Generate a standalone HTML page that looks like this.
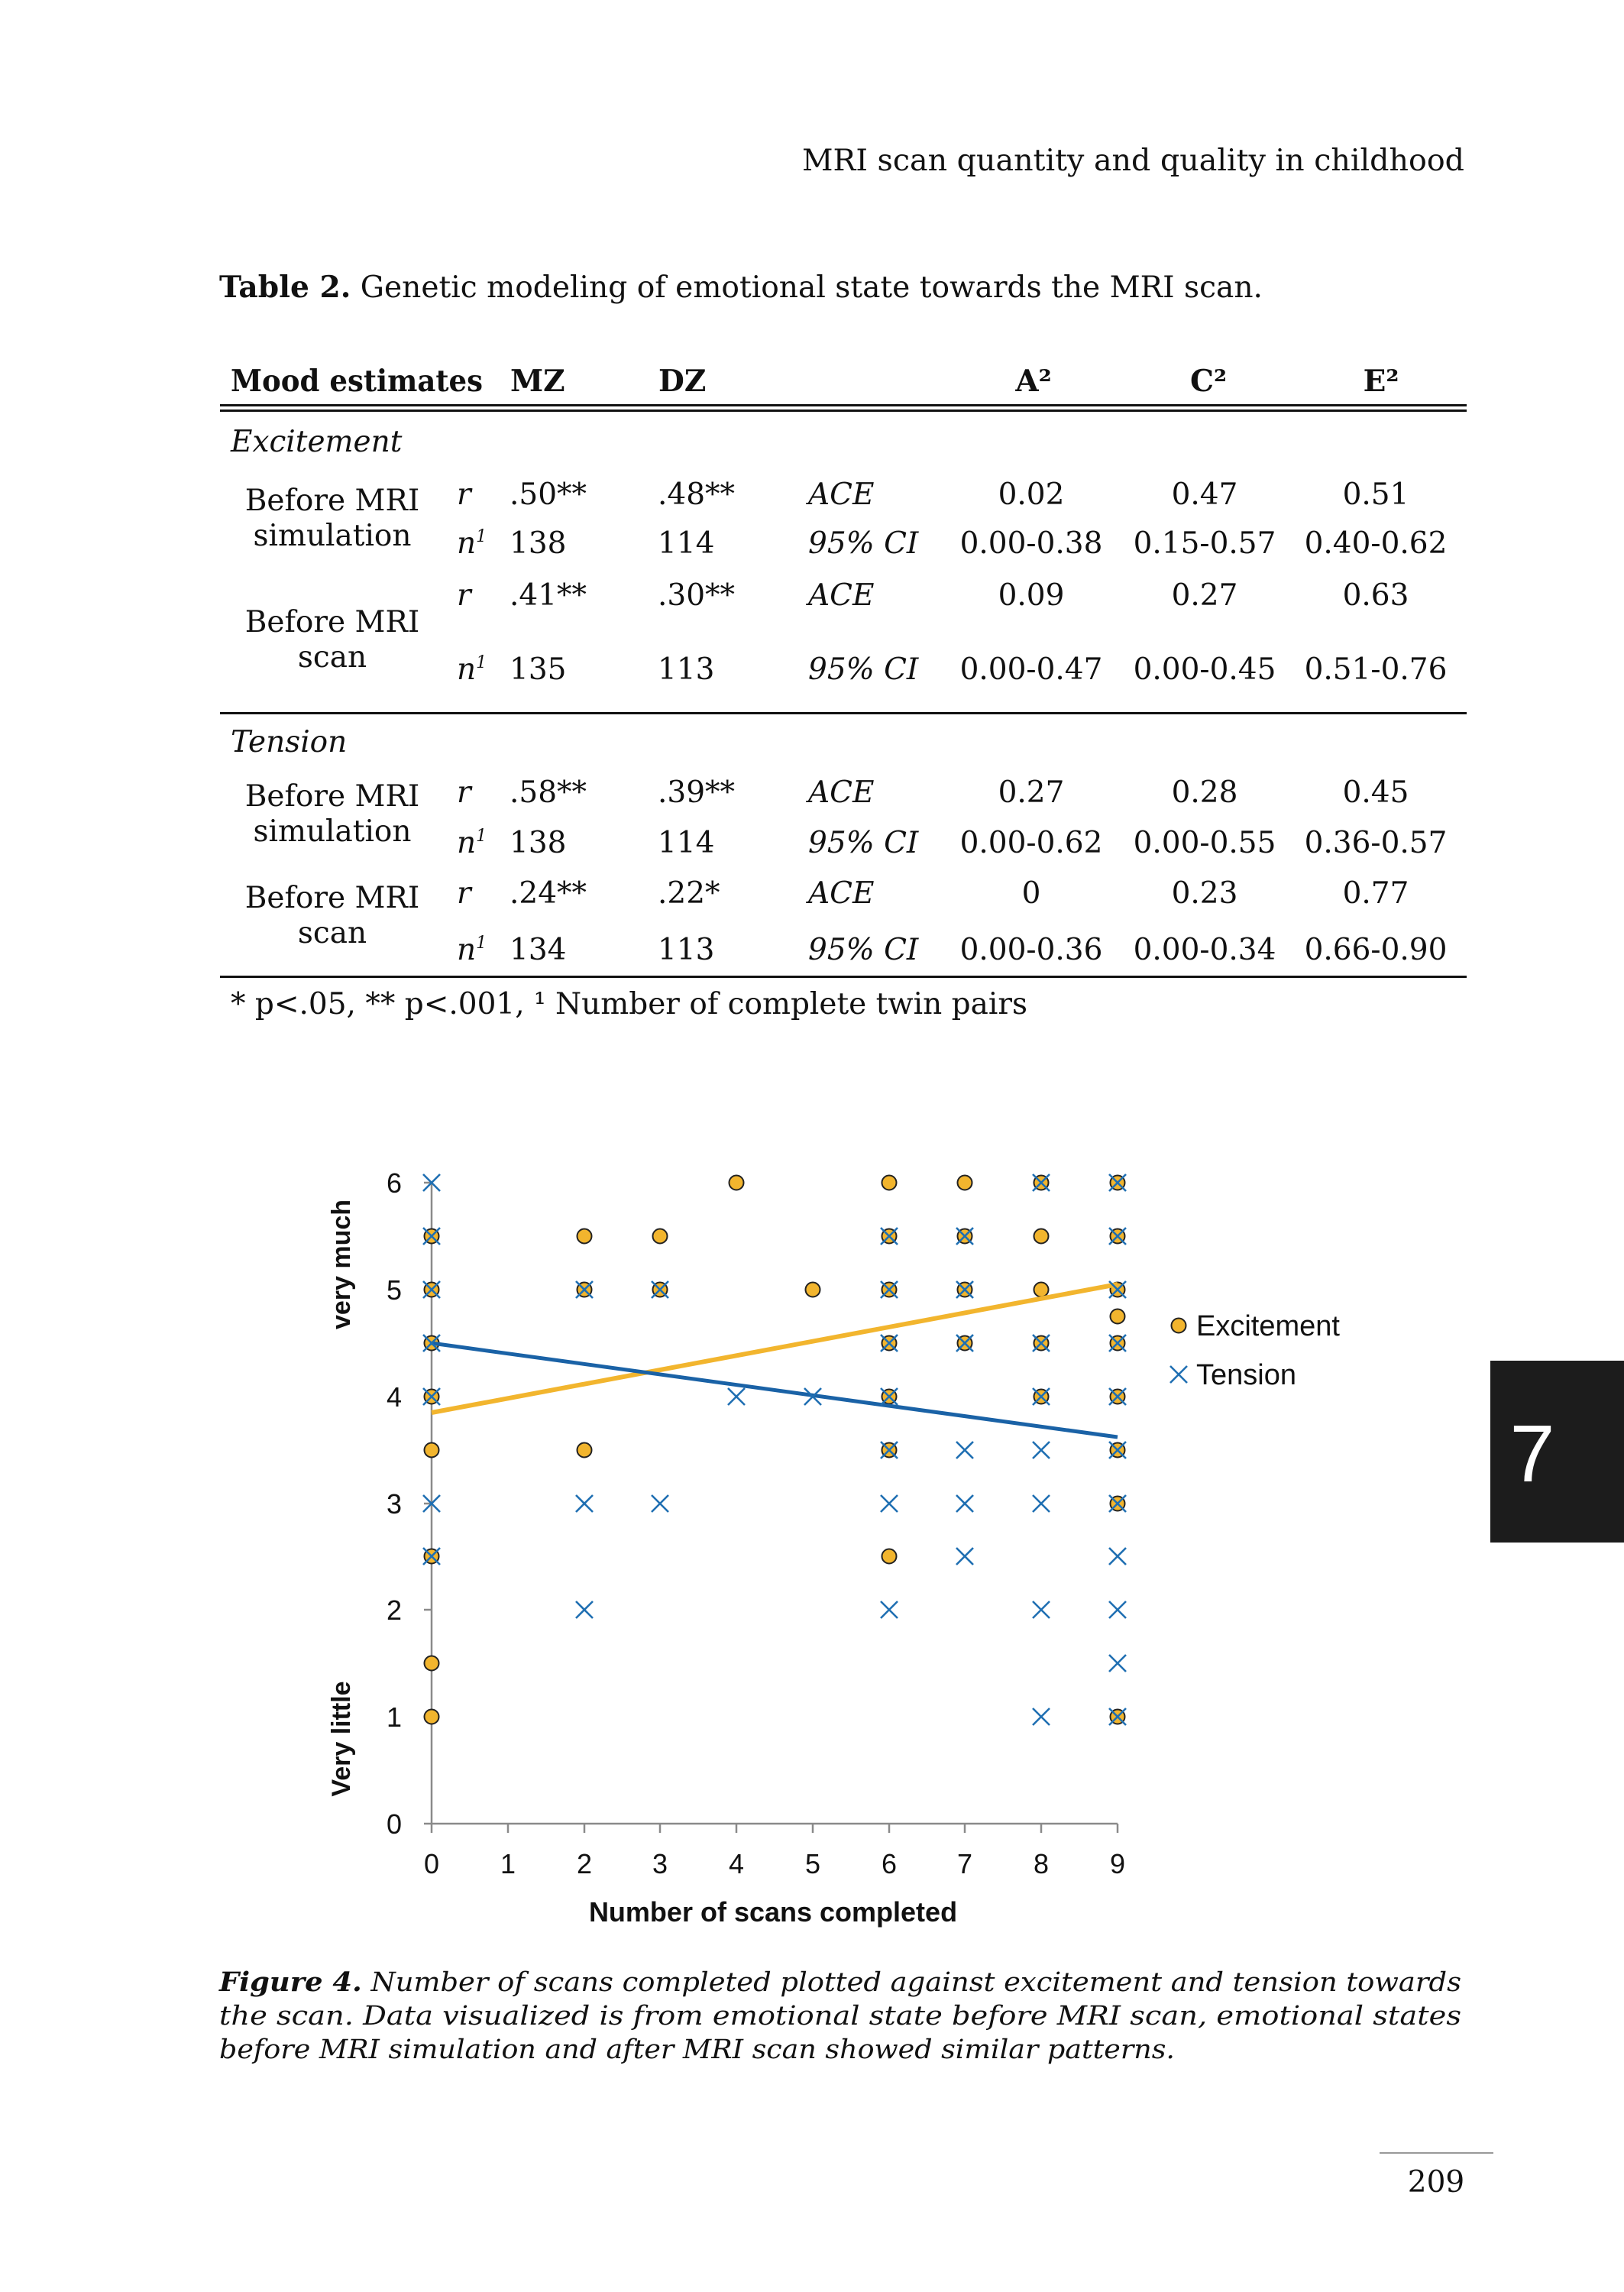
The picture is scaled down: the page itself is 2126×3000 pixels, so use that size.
<!DOCTYPE html>
<html><head><meta charset="utf-8"><style>
html,body{margin:0;padding:0;background:#fff;}
svg{display:block;}
.s{font-family:"DejaVu Serif","Liberation Serif",serif;fill:#111;}
.c{font-family:"Liberation Sans","DejaVu Sans",sans-serif;fill:#111;}
</style></head><body>
<svg width="2126" height="3000" viewBox="0 0 2126 3000" xmlns="http://www.w3.org/2000/svg">
<defs>
<g id="e"><ellipse cx="0" cy="0" rx="9.5" ry="9.5" fill="#F2B52E" stroke="#222" stroke-width="2"/></g>
<g id="t"><path d="M-11,-11L11,11M11,-11L-11,11" stroke="#1F6FB2" stroke-width="2.6" fill="none"/></g>
</defs>
<text class="s" x="1050" y="223" font-size="39" textLength="867" lengthAdjust="spacingAndGlyphs">MRI scan quantity and quality in childhood</text>
<text class="s" x="287" y="389" font-size="39" textLength="1366" lengthAdjust="spacingAndGlyphs"><tspan font-weight="bold">Table 2.</tspan> Genetic modeling of emotional state towards the MRI scan.</text>
<g class="s" font-size="39">
<text x="302" y="512" font-weight="bold" textLength="330" lengthAdjust="spacingAndGlyphs">Mood estimates</text>
<text x="668" y="512" font-weight="bold">MZ</text>
<text x="862" y="512" font-weight="bold">DZ</text>
<text x="1353" y="512" font-weight="bold" text-anchor="middle">A²</text>
<text x="1582" y="512" font-weight="bold" text-anchor="middle">C²</text>
<text x="1808" y="512" font-weight="bold" text-anchor="middle">E²</text>
</g>
<rect x="288" y="529" width="1632" height="3" fill="#111"/>
<rect x="288" y="536" width="1632" height="3" fill="#111"/>
<rect x="288" y="932" width="1632" height="3" fill="#111"/>
<rect x="288" y="1277" width="1632" height="3" fill="#111"/>
<g class="s" font-size="39">
<text x="302" y="591" font-style="italic">Excitement</text>
<text x="302" y="984" font-style="italic">Tension</text>
<g text-anchor="middle">
<text x="435" y="668">Before MRI</text><text x="435" y="714">simulation</text>
<text x="435" y="827">Before MRI</text><text x="435" y="873">scan</text>
<text x="435" y="1055">Before MRI</text><text x="435" y="1101">simulation</text>
<text x="435" y="1188">Before MRI</text><text x="435" y="1234">scan</text>
</g>
<g font-style="italic">
<text x="598" y="660">r</text><text x="598" y="724">n<tspan font-size="22" dy="-15">1</tspan></text>
<text x="598" y="792">r</text><text x="598" y="889">n<tspan font-size="22" dy="-15">1</tspan></text>
<text x="598" y="1050">r</text><text x="598" y="1116">n<tspan font-size="22" dy="-15">1</tspan></text>
<text x="598" y="1182">r</text><text x="598" y="1256">n<tspan font-size="22" dy="-15">1</tspan></text>
<text x="1058" y="660">ACE</text><text x="1058" y="724">95% CI</text>
<text x="1058" y="792">ACE</text><text x="1058" y="889">95% CI</text>
<text x="1058" y="1050">ACE</text><text x="1058" y="1116">95% CI</text>
<text x="1058" y="1182">ACE</text><text x="1058" y="1256">95% CI</text>
</g>
<text x="667" y="660">.50**</text><text x="667" y="724">138</text>
<text x="667" y="792">.41**</text><text x="667" y="889">135</text>
<text x="667" y="1050">.58**</text><text x="667" y="1116">138</text>
<text x="667" y="1182">.24**</text><text x="667" y="1256">134</text>
<text x="861" y="660">.48**</text><text x="861" y="724">114</text>
<text x="861" y="792">.30**</text><text x="861" y="889">113</text>
<text x="861" y="1050">.39**</text><text x="861" y="1116">114</text>
<text x="861" y="1182">.22*</text><text x="861" y="1256">113</text>
<g text-anchor="middle">
<text x="1350" y="660">0.02</text><text x="1577" y="660">0.47</text><text x="1801" y="660">0.51</text>
<text x="1350" y="724">0.00-0.38</text><text x="1577" y="724">0.15-0.57</text><text x="1801" y="724">0.40-0.62</text>
<text x="1350" y="792">0.09</text><text x="1577" y="792">0.27</text><text x="1801" y="792">0.63</text>
<text x="1350" y="889">0.00-0.47</text><text x="1577" y="889">0.00-0.45</text><text x="1801" y="889">0.51-0.76</text>
<text x="1350" y="1050">0.27</text><text x="1577" y="1050">0.28</text><text x="1801" y="1050">0.45</text>
<text x="1350" y="1116">0.00-0.62</text><text x="1577" y="1116">0.00-0.55</text><text x="1801" y="1116">0.36-0.57</text>
<text x="1350" y="1182">0</text><text x="1577" y="1182">0.23</text><text x="1801" y="1182">0.77</text>
<text x="1350" y="1256">0.00-0.36</text><text x="1577" y="1256">0.00-0.34</text><text x="1801" y="1256">0.66-0.90</text>
</g>
<text x="302" y="1327" textLength="1043" lengthAdjust="spacingAndGlyphs">* p&lt;.05, ** p&lt;.001, ¹ Number of complete twin pairs</text>
</g>

<g stroke="#8a8a8a" stroke-width="2.5" fill="none">
<path d="M565,1548V2387H1463"/>
<path d="M555,1548H565M555,1688H565M555,1828H565M555,1968H565M555,2107H565M555,2247H565M555,2387H565"/>
<path d="M565,2387v12M665,2387v12M765,2387v12M864,2387v12M964,2387v12M1064,2387v12M1164,2387v12M1263,2387v12M1363,2387v12M1463,2387v12"/>
</g>
<g class="c" font-size="36" text-anchor="end">
<text x="526" y="1561">6</text><text x="526" y="1701">5</text><text x="526" y="1841">4</text>
<text x="526" y="1981">3</text><text x="526" y="2120">2</text><text x="526" y="2260">1</text><text x="526" y="2400">0</text>
</g>
<g class="c" font-size="36" text-anchor="middle">
<text x="565" y="2452">0</text><text x="665" y="2452">1</text><text x="765" y="2452">2</text><text x="864" y="2452">3</text><text x="964" y="2452">4</text>
<text x="1064" y="2452">5</text><text x="1164" y="2452">6</text><text x="1263" y="2452">7</text><text x="1363" y="2452">8</text><text x="1463" y="2452">9</text>
<text x="1012" y="2515" font-weight="bold" font-size="36">Number of scans completed</text>
<text transform="translate(458,1655) rotate(-90)" font-weight="bold" font-size="34">very much</text>
<text transform="translate(458,2276) rotate(-90)" font-weight="bold" font-size="34">Very little</text>
</g>

<g>
<use href="#e" x="565" y="1618"/><use href="#e" x="565" y="1688"/><use href="#e" x="565" y="1758"/><use href="#e" x="565" y="1828"/><use href="#e" x="565" y="1898"/><use href="#e" x="565" y="2037"/><use href="#e" x="565" y="2177"/><use href="#e" x="565" y="2247"/>
<use href="#e" x="765" y="1618"/><use href="#e" x="765" y="1688"/><use href="#e" x="765" y="1898"/>
<use href="#e" x="864" y="1618"/><use href="#e" x="864" y="1688"/>
<use href="#e" x="964" y="1548"/>
<use href="#e" x="1064" y="1688"/>
<use href="#e" x="1164" y="1548"/><use href="#e" x="1164" y="1618"/><use href="#e" x="1164" y="1688"/><use href="#e" x="1164" y="1758"/><use href="#e" x="1164" y="1828"/><use href="#e" x="1164" y="1898"/><use href="#e" x="1164" y="2037"/>
<use href="#e" x="1263" y="1548"/><use href="#e" x="1263" y="1618"/><use href="#e" x="1263" y="1688"/><use href="#e" x="1263" y="1758"/>
<use href="#e" x="1363" y="1548"/><use href="#e" x="1363" y="1618"/><use href="#e" x="1363" y="1688"/><use href="#e" x="1363" y="1758"/><use href="#e" x="1363" y="1828"/>
<use href="#e" x="1463" y="1548"/><use href="#e" x="1463" y="1618"/><use href="#e" x="1463" y="1688"/><use href="#e" x="1463" y="1723"/><use href="#e" x="1463" y="1758"/><use href="#e" x="1463" y="1828"/><use href="#e" x="1463" y="1898"/><use href="#e" x="1463" y="1968"/><use href="#e" x="1463" y="2247"/>
</g>
<line x1="565" y1="1849" x2="1463" y2="1681" stroke="#F2B52E" stroke-width="6"/>
<line x1="565" y1="1758" x2="1463" y2="1881" stroke="#1A62A6" stroke-width="5"/>
<g>
<use href="#t" x="565" y="1548"/><use href="#t" x="565" y="1618"/><use href="#t" x="565" y="1688"/><use href="#t" x="565" y="1758"/><use href="#t" x="565" y="1828"/><use href="#t" x="565" y="1968"/><use href="#t" x="565" y="2037"/>
<use href="#t" x="765" y="1688"/><use href="#t" x="765" y="1968"/><use href="#t" x="765" y="2107"/>
<use href="#t" x="864" y="1688"/><use href="#t" x="864" y="1968"/>
<use href="#t" x="964" y="1828"/>
<use href="#t" x="1064" y="1828"/>
<use href="#t" x="1164" y="1618"/><use href="#t" x="1164" y="1688"/><use href="#t" x="1164" y="1758"/><use href="#t" x="1164" y="1828"/><use href="#t" x="1164" y="1898"/><use href="#t" x="1164" y="1968"/><use href="#t" x="1164" y="2107"/>
<use href="#t" x="1263" y="1618"/><use href="#t" x="1263" y="1688"/><use href="#t" x="1263" y="1758"/><use href="#t" x="1263" y="1898"/><use href="#t" x="1263" y="1968"/><use href="#t" x="1263" y="2037"/>
<use href="#t" x="1363" y="1548"/><use href="#t" x="1363" y="1758"/><use href="#t" x="1363" y="1828"/><use href="#t" x="1363" y="1898"/><use href="#t" x="1363" y="1968"/><use href="#t" x="1363" y="2107"/><use href="#t" x="1363" y="2247"/>
<use href="#t" x="1463" y="1548"/><use href="#t" x="1463" y="1618"/><use href="#t" x="1463" y="1688"/><use href="#t" x="1463" y="1758"/><use href="#t" x="1463" y="1828"/><use href="#t" x="1463" y="1898"/><use href="#t" x="1463" y="1968"/><use href="#t" x="1463" y="2037"/><use href="#t" x="1463" y="2107"/><use href="#t" x="1463" y="2177"/><use href="#t" x="1463" y="2247"/>
</g>
<use href="#e" x="1543" y="1735"/>
<use href="#t" x="1543" y="1799"/>
<text class="c" x="1566" y="1748" font-size="38">Excitement</text>
<text class="c" x="1566" y="1812" font-size="38">Tension</text>

<rect x="1951" y="1781" width="175" height="238" fill="#1c1c1c"/>
<text x="2006" y="1939" font-family="Liberation Sans, DejaVu Sans, sans-serif" font-size="106" fill="#fff" text-anchor="middle">7</text>

<g class="s" font-size="35" font-style="italic">
<text x="287" y="2606" textLength="1626" lengthAdjust="spacingAndGlyphs"><tspan font-weight="bold">Figure 4.</tspan> Number of scans completed plotted against excitement and tension towards</text>
<text x="287" y="2650" textLength="1626" lengthAdjust="spacingAndGlyphs">the scan. Data visualized is from emotional state before MRI scan, emotional states</text>
<text x="287" y="2694" textLength="1251" lengthAdjust="spacingAndGlyphs">before MRI simulation and after MRI scan showed similar patterns.</text>
</g>
<rect x="1806" y="2817" width="149" height="2" fill="#999"/>
<text class="s" x="1880" y="2869" font-size="39" text-anchor="middle">209</text>
</svg>
</body></html>
